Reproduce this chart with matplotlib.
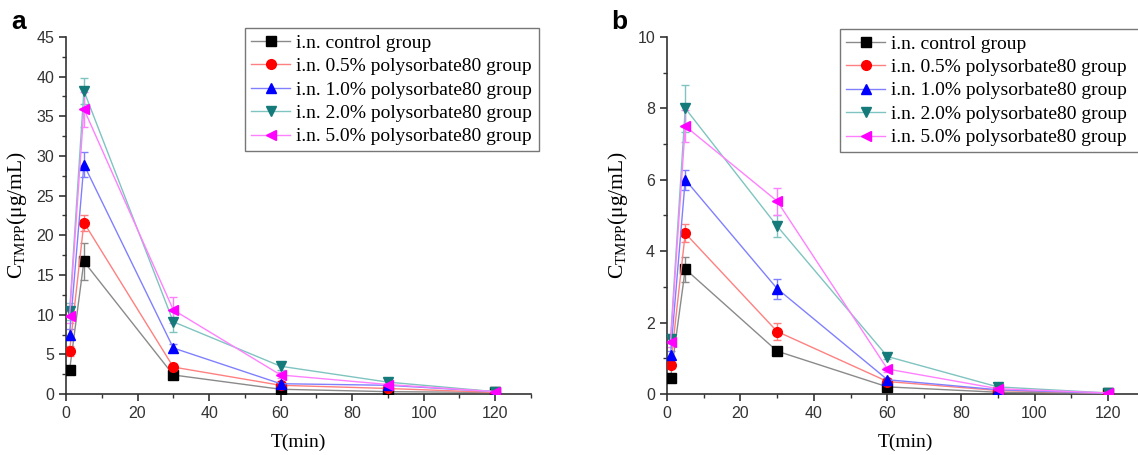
import numpy as np
import matplotlib
matplotlib.use("Agg")
import matplotlib.pyplot as plt
from matplotlib.ticker import MultipleLocator

# sampling times (min)
t = [1, 5, 30, 60, 90, 120]

labels = ['i.n. control group',
          'i.n. 0.5% polysorbate80 group',
          'i.n. 1.0% polysorbate80 group',
          'i.n. 2.0% polysorbate80 group',
          'i.n. 5.0% polysorbate80 group']

# panel a concentrations
a_ctrl = [3.0, 16.7, 2.4, 0.6, 0.3, 0.2]
a_p05 = [5.4, 21.6, 3.4, 1.1, 0.7, 0.2]
a_p10 = [7.5, 28.9, 5.8, 1.3, 1.1, 0.3]
a_p20 = [10.4, 38.2, 9.1, 3.5, 1.5, 0.3]
a_p50 = [9.8, 35.9, 10.6, 2.4, 1.2, 0.3]
# panel a error bars
a_ctrl_err = [0.3, 2.3, 0.3, 0.1, 0.1, 0.05]
a_p05_err = [0.6, 1.0, 0.4, 0.2, 0.1, 0.05]
a_p10_err = [0.7, 1.6, 0.5, 0.2, 0.2, 0.05]
a_p20_err = [1.1, 1.6, 1.3, 0.5, 0.3, 0.1]
a_p50_err = [0.9, 2.2, 1.6, 0.4, 0.2, 0.1]

# panel b concentrations
b_ctrl = [0.45, 3.5, 1.2, 0.2, 0.05, 0.02]
b_p05 = [0.8, 4.5, 1.75, 0.35, 0.1, 0.02]
b_p10 = [1.1, 6.0, 2.95, 0.4, 0.12, 0.02]
b_p20 = [1.55, 8.0, 4.7, 1.05, 0.2, 0.03]
b_p50 = [1.45, 7.5, 5.4, 0.7, 0.15, 0.03]
# panel b error bars
b_ctrl_err = [0.05, 0.35, 0.12, 0.03, 0.02, 0.01]
b_p05_err = [0.08, 0.25, 0.25, 0.04, 0.02, 0.01]
b_p10_err = [0.1, 0.28, 0.28, 0.05, 0.03, 0.01]
b_p20_err = [0.12, 0.65, 0.3, 0.08, 0.04, 0.01]
b_p50_err = [0.12, 0.45, 0.38, 0.07, 0.03, 0.01]

marker_colors = ['black', '#ff0000', '#0000ff', '#157a7a', '#ff00ff']
line_colors = ['#8a8a8a', '#ff8080', '#8080ff', '#7fc4c0', '#ff80ff']
markers = ['s', 'o', '^', 'v', '<']

fig = plt.figure(figsize=(11.38, 4.55), dpi=100)
ax_a = fig.add_axes([0.058, 0.134, 0.4086, 0.785])
ax_b = fig.add_axes([0.586, 0.134, 0.42, 0.785])

panels = [
    (ax_a, [a_ctrl, a_p05, a_p10, a_p20, a_p50],
     [a_ctrl_err, a_p05_err, a_p10_err, a_p20_err, a_p50_err], 45, 5, 2.5,
     (0.2155, 0.67, 0.258, 0.268)),
    (ax_b, [b_ctrl, b_p05, b_p10, b_p20, b_p50],
     [b_ctrl_err, b_p05_err, b_p10_err, b_p20_err, b_p50_err], 10, 2, 1,
     (0.7385, 0.666, 0.27, 0.27)),
]

for ax, series, errs, ymax, ymaj, ymin, lbox in panels:
    handles = []
    for y, e, mc, lc, m, lab in zip(series, errs, marker_colors, line_colors, markers, labels):
        ax.errorbar(t, y, yerr=e, fmt='none', ecolor=lc, elinewidth=1,
                    capsize=3, capthick=1, zorder=2)
        h, = ax.plot(t, y, color=lc, lw=1, marker=m, markersize=7,
                     markerfacecolor=mc, markeredgecolor=mc, label=lab, zorder=3)
        handles.append(h)
    ax.set_xlim(0, 130)
    ax.set_ylim(0, ymax)
    ax.xaxis.set_major_locator(MultipleLocator(20))
    ax.xaxis.set_minor_locator(MultipleLocator(10))
    ax.yaxis.set_major_locator(MultipleLocator(ymaj))
    ax.yaxis.set_minor_locator(MultipleLocator(ymin))
    ax.spines['top'].set_visible(False)
    ax.spines['right'].set_visible(False)
    for s in ['left', 'bottom']:
        ax.spines[s].set_linewidth(1.2)
        ax.spines[s].set_color('#333333')
    ax.tick_params(which='major', direction='out', length=5, width=1.2,
                   labelsize=11.5, colors='#333333')
    ax.tick_params(which='minor', direction='out', length=3, width=1, colors='#333333')
    for lbl in ax.get_xticklabels() + ax.get_yticklabels():
        lbl.set_fontfamily('Liberation Sans')
    ax.set_xlabel('T(min)', family='Liberation Serif', fontsize=14, labelpad=9)
    ax.set_ylabel(r'C$_{\mathregular{TMPP}}$(μg/mL)', family='Liberation Serif',
                  fontsize=15.5, labelpad=5)
    leg = ax.legend(handles=handles, loc='upper left', bbox_to_anchor=lbox,
                    bbox_transform=fig.transFigure, mode='expand',
                    prop={'family': 'Liberation Serif', 'size': 14},
                    frameon=True, fancybox=False, handlelength=2.0,
                    handletextpad=0.3, borderpad=0.3, labelspacing=0.3,
                    borderaxespad=0)
    leg.get_frame().set_edgecolor('#555555')
    leg.get_frame().set_linewidth(1)

fig.text(0.010, 0.952, 'a', fontsize=19, fontweight='bold', family='Liberation Sans', va='center')
fig.text(0.537, 0.952, 'b', fontsize=19, fontweight='bold', family='Liberation Sans', va='center')

fig.savefig('out.png', dpi=100)
